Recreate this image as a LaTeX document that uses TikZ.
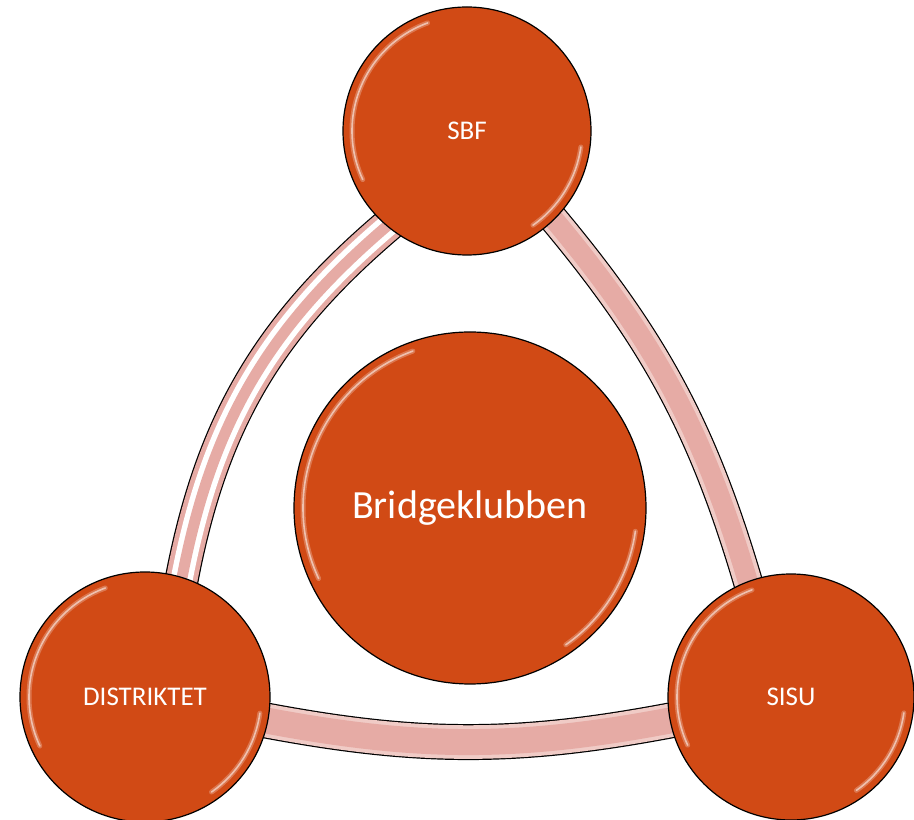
\documentclass[tikz,border=0pt]{standalone}
\usepackage{fontspec}
\setmainfont{Carlito}
\usetikzlibrary{calc}

\definecolor{ballorange}{RGB}{209,74,21}
\definecolor{bandpale}{RGB}{240,203,198}
\definecolor{bandpink}{RGB}{230,171,165}

\tikzset{
  ball/.style={circle, draw=black, line width=1.2pt, fill=ballorange, text=white, inner sep=0pt},
  rim/.style={white, opacity=.25, line width=5pt, line cap=round,
    postaction={draw=white, opacity=.55, line width=1.6pt}},
  stripeband/.style={draw=black, line width=34pt,
    postaction={draw=bandpink, line width=31.6pt},
    postaction={draw=white, line width=22pt},
    postaction={draw=bandpink, line width=11pt}},
  plainband/.style={draw=black, line width=#1,
    postaction={draw=bandpale, line width=#1-2.4pt},
    postaction={draw=bandpink, line width=#1-10pt}},
}

\begin{document}
\begin{tikzpicture}[x=1pt, y=1pt]
\useasboundingbox (0,0) rectangle (914,820);

% centres of the circles
\coordinate (csbf) at (467,689);
\coordinate (cklubb) at (470,312);
\coordinate (cdis) at (145,123);
\coordinate (csisu) at (791,123);

% band ends, inside the circles
\coordinate (sbfL) at ($(csbf)+(231:112)$);
\coordinate (sbfR) at ($(csbf)+(315:112)$);
\coordinate (disT) at ($(cdis)+(72:112)$);
\coordinate (disR) at ($(cdis)+(-11:112)$);
\coordinate (sisuT) at ($(csisu)+(111:110)$);
\coordinate (sisuL) at ($(csisu)+(191:110)$);

% bands
\draw[stripeband] (sbfL) to[bend right=20] (disT);
\draw[plainband=30pt] (sbfR) to[bend left=12] (sisuT);
\draw[plainband=36pt] (disR) to[bend right=11] (sisuL);

% circles
\node[ball, minimum size=248pt, font=\fontsize{27}{30}\selectfont] (sbf) at (csbf) {SBF};
\node[ball, minimum size=352pt, font=\fontsize{40}{46}\selectfont] (klubb) at (cklubb) {Bridgeklubben};
\node[ball, minimum size=250pt, font=\fontsize{27}{30}\selectfont] (dis) at (cdis) {DISTRIKTET};
\node[ball, minimum size=246pt, font=\fontsize{27}{30}\selectfont] (sisu) at (csisu) {SISU};

% glossy rims
\foreach \n/\r in {sbf/124, klubb/176, dis/125, sisu/123} {
  \draw[rim] (\n.center) ++(110:\r-9) arc[start angle=110, end angle=205, radius=\r-9];
  \draw[rim] (\n.center) ++(-8:\r-9) arc[start angle=-8, end angle=-55, radius=\r-9];
}
\end{tikzpicture}
\end{document}
